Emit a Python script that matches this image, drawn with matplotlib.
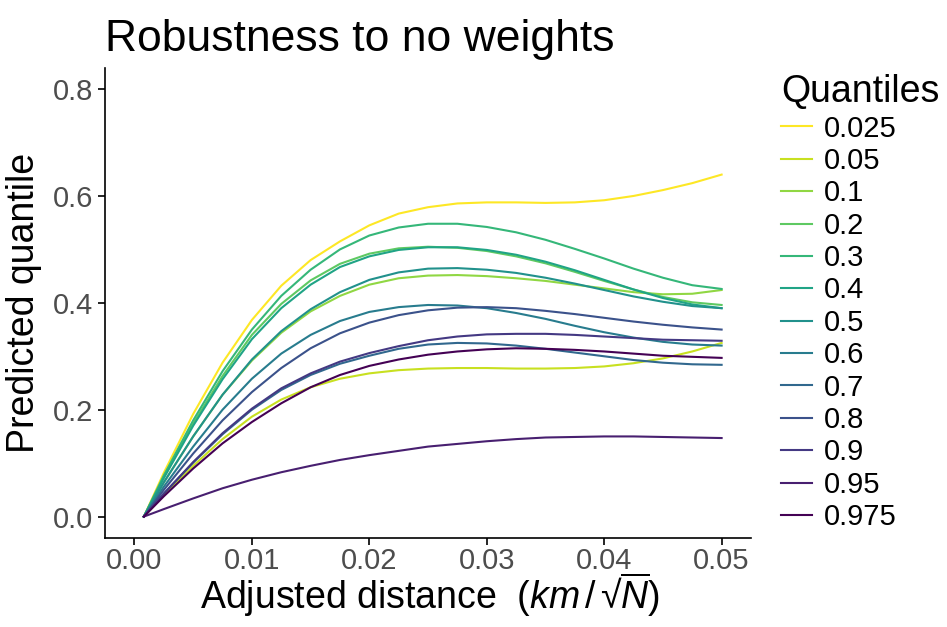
import numpy as np
import matplotlib
matplotlib.use("Agg")
import matplotlib.pyplot as plt

plt.rcParams["font.family"] = ["Liberation Sans", "DejaVu Sans"]
plt.rcParams["mathtext.fontset"] = "custom"
plt.rcParams["mathtext.rm"] = "Liberation Sans"
plt.rcParams["mathtext.it"] = "Liberation Sans:italic"

quantiles = ["0.025", "0.05", "0.1", "0.2", "0.3", "0.4", "0.5",
             "0.6", "0.7", "0.8", "0.9", "0.95", "0.975"]

# adjusted distance (x values)
dist = [0.0008, 0.0025, 0.005, 0.0075, 0.01, 0.0125, 0.015, 0.0175, 0.02,
        0.0225, 0.025, 0.0275, 0.03, 0.0325, 0.035, 0.0375, 0.04, 0.0425,
        0.045, 0.0475, 0.05]

q_0025 = [0, 0.082, 0.192, 0.288, 0.368, 0.432, 0.48, 0.515, 0.545, 0.567,
          0.579, 0.586, 0.588, 0.588, 0.587, 0.588, 0.592, 0.600, 0.611,
          0.624, 0.640]
q_005 = [0, 0.040, 0.095, 0.145, 0.187, 0.219, 0.242, 0.258, 0.268, 0.274,
         0.277, 0.278, 0.278, 0.277, 0.277, 0.278, 0.281, 0.287, 0.296,
         0.309, 0.325]
q_01 = [0, 0.064, 0.150, 0.228, 0.292, 0.344, 0.384, 0.413, 0.434, 0.446,
        0.451, 0.452, 0.450, 0.446, 0.441, 0.434, 0.427, 0.420, 0.416,
        0.417, 0.424]
q_02 = [0, 0.074, 0.174, 0.263, 0.340, 0.398, 0.442, 0.473, 0.492, 0.502,
        0.505, 0.503, 0.497, 0.487, 0.474, 0.458, 0.441, 0.425, 0.411,
        0.401, 0.396]
q_03 = [0, 0.077, 0.180, 0.272, 0.350, 0.413, 0.462, 0.500, 0.526, 0.541,
        0.548, 0.548, 0.542, 0.532, 0.518, 0.501, 0.483, 0.464, 0.447,
        0.433, 0.426]
q_04 = [0, 0.072, 0.170, 0.257, 0.332, 0.390, 0.434, 0.467, 0.487, 0.499,
        0.504, 0.504, 0.499, 0.490, 0.477, 0.461, 0.443, 0.425, 0.409,
        0.397, 0.390]
q_05 = [0, 0.064, 0.150, 0.228, 0.294, 0.347, 0.388, 0.420, 0.443, 0.457,
        0.464, 0.465, 0.462, 0.456, 0.447, 0.436, 0.424, 0.412, 0.402,
        0.394, 0.390]
q_06 = [0, 0.056, 0.131, 0.200, 0.258, 0.305, 0.340, 0.366, 0.383, 0.392,
        0.396, 0.395, 0.390, 0.381, 0.370, 0.357, 0.345, 0.335, 0.327,
        0.322, 0.320]
q_07 = [0, 0.043, 0.101, 0.154, 0.200, 0.237, 0.265, 0.286, 0.301, 0.314,
        0.322, 0.325, 0.324, 0.320, 0.314, 0.307, 0.300, 0.293, 0.288,
        0.285, 0.284]
q_08 = [0, 0.050, 0.118, 0.180, 0.233, 0.278, 0.315, 0.343, 0.363, 0.377,
        0.386, 0.391, 0.392, 0.390, 0.385, 0.379, 0.372, 0.365, 0.359,
        0.354, 0.350]
q_09 = [0, 0.043, 0.102, 0.156, 0.202, 0.240, 0.268, 0.290, 0.306, 0.319,
        0.330, 0.337, 0.341, 0.342, 0.342, 0.340, 0.337, 0.334, 0.331,
        0.330, 0.329]
q_095 = [0, 0.014, 0.034, 0.053, 0.069, 0.083, 0.095, 0.106, 0.115, 0.123,
         0.131, 0.136, 0.141, 0.145, 0.148, 0.149, 0.150, 0.150, 0.149,
         0.148, 0.147]
q_0975 = [0, 0.038, 0.090, 0.137, 0.177, 0.212, 0.242, 0.265, 0.282, 0.294,
          0.303, 0.309, 0.313, 0.315, 0.314, 0.312, 0.309, 0.305, 0.301,
          0.299, 0.297]

curves = [q_0025, q_005, q_01, q_02, q_03, q_04, q_05, q_06, q_07, q_08,
          q_09, q_095, q_0975]

colors = plt.cm.viridis(np.linspace(0, 1, len(quantiles)))[::-1]

fig = plt.figure(figsize=(9.47, 6.27), dpi=100)
ax = fig.add_axes([0.111, 0.142, 0.682, 0.750])

for q, vals, c in zip(quantiles, curves, colors):
    ax.plot(dist, vals, color=c, lw=1.5, label=q)

ax.set_xlim(-0.0025, 0.0525)
ax.set_ylim(-0.04, 0.84)
ax.set_xticks([0.0, 0.01, 0.02, 0.03, 0.04, 0.05])
ax.set_xticklabels(["0.00", "0.01", "0.02", "0.03", "0.04", "0.05"])
ax.set_yticks([0.0, 0.2, 0.4, 0.6, 0.8])
ax.set_yticklabels(["0.0", "0.2", "0.4", "0.6", "0.8"])
ax.tick_params(labelsize=21, colors="#4d4d4d", length=5, width=1.2)
ax.tick_params(color="black")
ax.tick_params(axis="x", pad=1.5)

for side in ["top", "right"]:
    ax.spines[side].set_visible(False)
for side in ["left", "bottom"]:
    ax.spines[side].set_linewidth(1.2)

# x title placed by hand; a plain root sign + overline keeps it short
fig.text(0.454, 1 - 609 / 627,
         "Adjusted distance  $(km\\,/\\,\u221a\\overline{N})$",
         fontsize=27, ha="center", va="baseline")
ax.set_ylabel("Predicted quantile", fontsize=27, labelpad=8)
ax.set_title("Robustness to no weights", fontsize=32, loc="left", pad=12)

leg = ax.legend(title="Quantiles", loc="upper left",
                bbox_to_anchor=(1.029, 1.011), frameon=False, fontsize=21,
                title_fontsize=27, handlelength=1.05, handletextpad=0.4,
                labelspacing=0.15, borderaxespad=0, alignment="left")

plt.savefig("out.png", dpi=100)
plt.close()
